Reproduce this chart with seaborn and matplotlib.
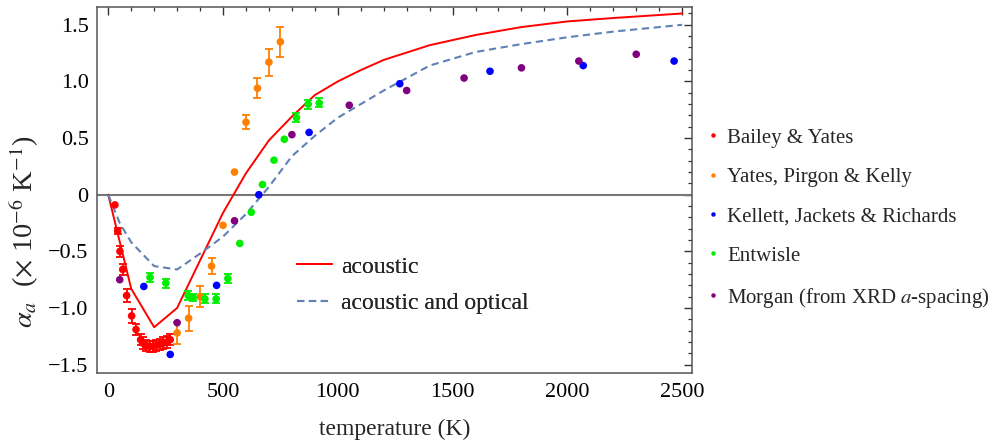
import numpy as np
import pandas as pd
import matplotlib
matplotlib.use("Agg")
import matplotlib.pyplot as plt
import seaborn as sns
from matplotlib.lines import Line2D
from matplotlib.ticker import MultipleLocator, FuncFormatter

# ---------------- data ----------------
# model curves
curve_T = [0, 100, 200, 300, 400, 500, 600, 700, 800, 900, 1000, 1100, 1200,
           1400, 1600, 1800, 2000, 2200, 2500]
acoustic = [0, -0.83, -1.17, -1.0, -0.58, -0.16, 0.19, 0.48, 0.69, 0.88, 1.0,
            1.10, 1.19, 1.32, 1.41, 1.48, 1.53, 1.56, 1.60]
optic_T = [0, 50, 100, 200, 300, 400, 500, 600, 700, 800, 900, 1000, 1200,
           1400, 1600, 1800, 2000, 2200, 2500]
acoustic_optical = [0, -0.25, -0.42, -0.63, -0.66, -0.52, -0.37, -0.17, 0.07,
                    0.34, 0.52, 0.68, 0.92, 1.14, 1.26, 1.33, 1.39, 1.44, 1.50]

# Bailey & Yates
by_T = [29, 41, 51, 63, 80, 102, 121, 141, 150, 165, 180, 195, 210, 225, 240,
        255, 270]
by_v = [-0.09, -0.32, -0.50, -0.66, -0.89, -1.07, -1.19, -1.28, -1.31, -1.33,
        -1.34, -1.34, -1.33, -1.32, -1.31, -1.30, -1.28]
by_e = [0, 0.03, 0.05, 0.05, 0.06, 0.06, 0.05, 0.05, 0.05, 0.05, 0.05, 0.05,
        0.05, 0.05, 0.05, 0.05, 0.05]

# Yates, Pirgon & Kelly
ypk_T = [300, 350, 400, 450, 500, 550, 600, 650, 700, 750]
ypk_v = [-1.22, -1.09, -0.90, -0.63, -0.27, 0.20, 0.64, 0.94, 1.17, 1.35]
ypk_e = [0.10, 0.11, 0.09, 0.07, 0, 0, 0.06, 0.09, 0.12, 0.13]

# Kellett, Jackets & Richards
kjr_T = [155, 270, 472, 656, 875, 1270, 1663, 2069, 2465]
kjr_v = [-0.81, -1.41, -0.80, 0.0, 0.55, 0.98, 1.09, 1.14, 1.18]

# Entwisle
ent_T = [182, 251, 348, 370, 421, 470, 521, 573, 623, 672, 722, 767, 820, 871, 919]
ent_v = [-0.73, -0.78, -0.89, -0.91, -0.92, -0.92, -0.74, -0.43, -0.155, 0.09,
         0.305, 0.49, 0.68, 0.80, 0.81]
ent_e = [0.04, 0.04, 0.04, 0.03, 0.04, 0.04, 0.04, 0, 0, 0, 0, 0, 0.04, 0.04, 0.04]

# Morgan (from XRD a-spacing)
mor_T = [50, 300, 550, 800, 1050, 1300, 1550, 1800, 2050, 2300]
mor_v = [-0.75, -1.13, -0.23, 0.53, 0.79, 0.92, 1.03, 1.12, 1.18, 1.24]

series_names = ["Bailey & Yates", "Yates, Pirgon & Kelly",
                "Kellett, Jackets & Richards", "Entwisle",
                "Morgan (from XRD $\\mathit{a}$-spacing)"]
series_colors = ["#ff0000", "#ff8000", "#0000ff", "#00ee00", "#800080"]

x_ticks = [0, 500, 1000, 1500, 2000, 2500]
y_ticks = [-1.5, -1.0, -0.5, 0, 0.5, 1.0, 1.5]

# ---------------- style ----------------
sns.set_theme(style="white")
plt.rcParams["font.family"] = ["Liberation Serif", "DejaVu Serif"]
plt.rcParams["mathtext.fontset"] = "stix"

fig = plt.figure(figsize=(9.99, 4.42), dpi=100)
ax = fig.add_axes([0.0971, 0.1561, 0.5956, 0.828])

ax.axhline(0, color="#777777", lw=1.5, zorder=1)

curves = pd.DataFrame({"T": curve_T, "v": acoustic})
curves2 = pd.DataFrame({"T": optic_T, "v": acoustic_optical})
sns.lineplot(data=curves, x="T", y="v", ax=ax, color="#ff0000", lw=1.4,
             zorder=2, legend=False)
sns.lineplot(data=curves2, x="T", y="v", ax=ax, color="#5f81b5", lw=1.5,
             dashes=False, zorder=2, legend=False)
ax.lines[-1].set_dashes([3.5, 2.2])

groups = [(by_T, by_v, by_e), (ypk_T, ypk_v, ypk_e), (kjr_T, kjr_v, None),
          (ent_T, ent_v, ent_e), (mor_T, mor_v, None)]
for (T, v, e), name, col in zip(groups, series_names, series_colors):
    T = np.asarray(T, float)
    v = np.asarray(v, float)
    if e is not None:
        e = np.asarray(e, float)
        m = e > 0
        ax.errorbar(T[m], v[m], yerr=e[m], fmt="none", ecolor=col,
                    elinewidth=1.3, capsize=2.6, capthick=1.3, zorder=3)
    df = pd.DataFrame({"T": T, "v": v})
    sns.scatterplot(data=df, x="T", y="v", ax=ax, color=col, s=30,
                    edgecolor="none", linewidth=0, zorder=4, legend=False)

ax.set_xlim(-49, 2543)
ax.set_ylim(-1.574, 1.657)
ax.set_xticks(x_ticks)
ax.set_yticks(y_ticks)
ax.xaxis.set_minor_locator(MultipleLocator(100))
ax.yaxis.set_minor_locator(MultipleLocator(0.1))
ax.yaxis.set_major_formatter(FuncFormatter(
    lambda v, p: "0" if abs(v) < 1e-9 else f"{v:.1f}".replace("-", "\u2212")))
ax.xaxis.set_major_formatter(FuncFormatter(lambda v, p: f"{int(round(v))}"))
ax.tick_params(which="both", direction="in", top=True, right=True,
               colors="#333333", labelcolor="black", labelsize=16)
ax.tick_params(which="major", length=5.5, width=1.0)
ax.tick_params(which="minor", length=3.0, width=0.9)
ax.tick_params(axis="x", pad=7)
ax.tick_params(axis="y", pad=6)
for s in ax.spines.values():
    s.set_color("#555555")
    s.set_linewidth(1.1)

ax.set_xlabel("temperature (K)", fontsize=17)
ax.set_ylabel(r"$\alpha_a$  ($\times$ 10$^{-6}$ K$^{-1}$)", fontsize=20.5)
ax.xaxis.set_label_coords(0.5, -0.125)
ax.yaxis.set_label_coords(-0.094, 0.386)

# inner legend for the model curves
h_in = [Line2D([], [], color="#ff0000", lw=1.4),
        Line2D([], [], color="#5f81b5", lw=1.5, dashes=[3.5, 2.2])]
leg1 = ax.legend(h_in, ["acoustic", "acoustic and optical"], loc="upper left",
                 bbox_to_anchor=(297 / 999, 1 - 256 / 442),
                 bbox_transform=fig.transFigure, frameon=False, fontsize=17,
                 handlelength=1.5, handletextpad=0.37, labelspacing=0.63,
                 borderpad=0, borderaxespad=0)
ax.add_artist(leg1)

# outer legend for the data sets
h_out = [Line2D([], [], ls="none", marker="o", ms=3.2, color=c, mec="none")
         for c in series_colors]
fig.legend(h_out, series_names, loc="upper left",
           bbox_to_anchor=(705 / 999, 1 - 128 / 442), frameon=False,
           fontsize=15, handlelength=0.8, handletextpad=0.26,
           labelspacing=0.95, borderpad=0, borderaxespad=0)

fig.savefig("out.png", dpi=100)
